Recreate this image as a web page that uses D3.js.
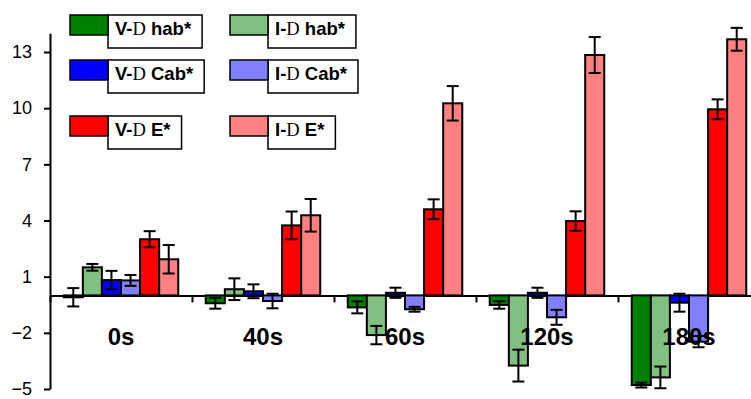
<!DOCTYPE html>
<html>
<head>
<meta charset="utf-8">
<script src="https://cdn.jsdelivr.net/npm/d3@7"></script>
<style>
  body { margin: 0; background: #fff; }
  text { font-family: "Liberation Sans", Arial, sans-serif; }
</style>
</head>
<body>
<script>
const width = 751
const height = 399

// data
const categories = ['0s', '40s', '60s', '120s', '180s']
const seriesNames = ['V-D hab*', 'I-D hab*', 'V-D Cab*', 'I-D Cab*', 'V-D E*', 'I-D E*']
const seriesColors = ['#008000', '#80c080', '#0000ff', '#8080ff', '#ff0000', '#ff8080']
const vdHab = [-0.1, -0.42, -0.64, -0.51, -4.79]
const idHab = [1.5, 0.33, -2.12, -3.75, -4.38]
const vdCab = [0.82, 0.22, 0.14, 0.14, -0.39]
const idCab = [0.8, -0.3, -0.74, -1.17, -2.47]
const vdE = [3.0, 3.74, 4.6, 3.97, 9.94]
const idE = [1.93, 4.28, 10.26, 12.84, 13.68]
const vdHabErr = [0.49, 0.29, 0.32, 0.2, 0.13]
const idHabErr = [0.18, 0.58, 0.49, 0.85, 0.58]
const vdCabErr = [0.49, 0.37, 0.27, 0.27, 0.48]
const idCabErr = [0.29, 0.39, 0.13, 0.4, 0.3]
const vdEErr = [0.43, 0.74, 0.53, 0.52, 0.53]
const idEErr = [0.76, 0.87, 0.92, 0.96, 0.61]
const yTicks = [-5, -2, 1, 4, 7, 10, 13]

const values = [vdHab, idHab, vdCab, idCab, vdE, idE]
const errors = [vdHabErr, idHabErr, vdCabErr, idCabErr, vdEErr, idEErr]

let bars = []
categories.forEach((c, ci) => {
  seriesNames.forEach((s, si) => {
    bars.push({cat: c, series: s, color: seriesColors[si], v: values[si][ci], e: errors[si][ci]})
  })
})

let svg = d3.select('body').append('svg')
  .attr('width', width)
  .attr('height', height)

let y = d3.scaleLinear().domain([-5, 14]).range([389, 33.3])
let x0 = d3.scaleBand().domain(categories).range([50, 760]).padding(0)
let x1 = d3.scaleBand().domain(seriesNames).range([0, x0.bandwidth()]).paddingInner(0).paddingOuter(0.72)

// x axis along zero
let xLin = d3.scaleLinear().domain([0, categories.length]).range([50, 760])
let gx = svg.append('g')
  .attr('transform', `translate(0, ${y(0)})`)
  .call(d3.axisBottom(xLin).ticks(5).tickSize(7).tickSizeOuter(0).tickFormat(''))
gx.selectAll('path, line').attr('stroke', '#000').attr('stroke-width', 2)

// bars
svg.selectAll('.bar')
  .data(bars)
  .enter()
  .append('rect')
  .attr('x', d => x0(d.cat) + x1(d.series))
  .attr('y', d => y(Math.max(0, d.v)))
  .attr('width', x1.bandwidth())
  .attr('height', d => Math.abs(y(d.v) - y(0)))
  .attr('fill', d => d.color)
  .attr('stroke', '#000')
  .attr('stroke-width', 2)

// error bars
let eb = svg.selectAll('.err')
  .data(bars)
  .enter()
  .append('g')
  .attr('transform', d => `translate(${x0(d.cat) + x1(d.series) + x1.bandwidth() / 2}, 0)`)
eb.append('line')
  .attr('y1', d => y(d.v + d.e)).attr('y2', d => y(d.v - d.e))
  .attr('stroke', '#000').attr('stroke-width', 2)
eb.append('line')
  .attr('x1', -6).attr('x2', 6)
  .attr('y1', d => y(d.v + d.e)).attr('y2', d => y(d.v + d.e))
  .attr('stroke', '#000').attr('stroke-width', 2)
eb.append('line')
  .attr('x1', -6).attr('x2', 6)
  .attr('y1', d => y(d.v - d.e)).attr('y2', d => y(d.v - d.e))
  .attr('stroke', '#000').attr('stroke-width', 2)

// y axis
let gy = svg.append('g')
  .attr('transform', 'translate(50, 0)')
  .call(d3.axisLeft(y).tickValues(yTicks).tickSize(6).tickSizeOuter(0).tickPadding(12))
gy.selectAll('path, line').attr('stroke', '#000').attr('stroke-width', 2)
gy.selectAll('text')
  .style('font-family', '"Liberation Sans", Arial, sans-serif')
  .style('font-size', '18px')
  .attr('fill', '#000')

// category labels
svg.selectAll('.cat')
  .data(categories)
  .enter()
  .append('text')
  .attr('x', d => x0(d) + x0.bandwidth() / 2)
  .attr('y', 345)
  .attr('text-anchor', 'middle')
  .style('font-size', '24px')
  .style('font-weight', 'bold')
  .text(d => d)

// legend
const legCols = [70, 230]
const legRows = [15, 60, 116]
let leg = svg.selectAll('.leg')
  .data(seriesNames)
  .enter()
  .append('g')
  .attr('transform', (d, i) => `translate(${legCols[i % 2]}, ${legRows[Math.floor(i / 2)]})`)

leg.append('rect')
  .attr('x', 38).attr('y', 0)
  .attr('height', 33)
  .attr('fill', '#fff')
  .attr('stroke', '#000')
  .attr('stroke-width', 1.5)
  .attr('class', 'box')

leg.append('rect')
  .attr('x', 0).attr('y', 0)
  .attr('width', 38).attr('height', 20)
  .attr('fill', (d, i) => seriesColors[i])
  .attr('stroke', '#000')
  .attr('stroke-width', 1.5)

let lt = leg.append('text')
  .attr('x', 45).attr('y', 20)
  .style('font-size', '18.5px')
  .style('font-weight', 'bold')
lt.append('tspan').text(d => d.split('D')[0])
lt.append('tspan').text('D')
  .style('font-family', '"Liberation Serif", "DejaVu Serif", serif')
  .style('font-weight', 'normal')
lt.append('tspan').text(d => d.split('D')[1])

leg.each(function() {
  let g = d3.select(this)
  let w = g.select('text').node().getComputedTextLength()
  g.select('.box').attr('width', w + 18)
})
</script>
</body>
</html>
